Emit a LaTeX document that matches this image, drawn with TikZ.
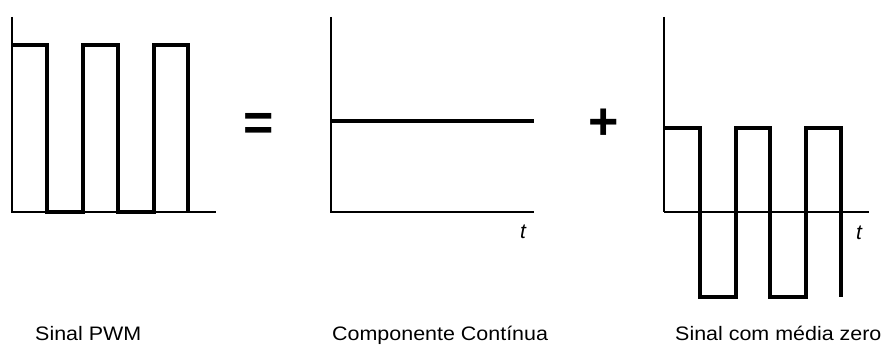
\documentclass[tikz,border=0pt]{standalone}
\usepackage{fontspec}
\setmainfont{Liberation Sans}
\newfontfamily\labfont[FakeStretch=1.1]{Liberation Sans}
\begin{document}
\begin{tikzpicture}[x=1pt,y=-1pt,
  axis/.style={line width=1.6pt,line cap=butt},
  wave/.style={line width=3.4pt,line join=miter,line cap=butt},
  caption/.style={anchor=base west,inner sep=0pt,font=\labfont\fontsize{19.5}{21}\selectfont},
  tlabel/.style={anchor=base west,inner sep=0pt,font=\itshape\fontsize{21}{22}\selectfont},
  opsign/.style={inner sep=0pt,font=\bfseries\fontsize{52}{52}\selectfont}]
\useasboundingbox (0,0) rectangle (886,345);
% Panel 1: PWM
\draw[axis] (12,17) -- (12,212) -- (216,212);
\draw[wave] (12,45) -- (47,45) -- (47,212) -- (83,212) -- (83,45) -- (118,45) -- (118,212) -- (154,212) -- (154,45) -- (188,45) -- (188,212);
% Panel 2: DC
\draw[axis] (331,17) -- (331,212) -- (534,212);
\draw[wave] (331,121) -- (534,121);
\node[tlabel] (t1) at (520,238) {t};
% Panel 3: zero mean
\draw[axis] (664,17) -- (664,212);
\draw[axis] (664,212) -- (869,212);
\draw[wave] (664,128) -- (700,128) -- (700,297) -- (736,297) -- (736,128) -- (770,128) -- (770,297) -- (806,297) -- (806,128) -- (841,128) -- (841,297);
\node[tlabel] (t2) at (856,239) {t};
% Operators
\node[opsign] (eq) at (259,127) {=};
\node[opsign] (plus) at (604,124) {+};
% Captions
\node[caption] (c1) at (35,340) {Sinal PWM};
\node[caption] (c2) at (332,340) {Componente Contínua};
\node[caption] (c3) at (675,340) {Sinal com média zero};
\end{tikzpicture}
\end{document}
